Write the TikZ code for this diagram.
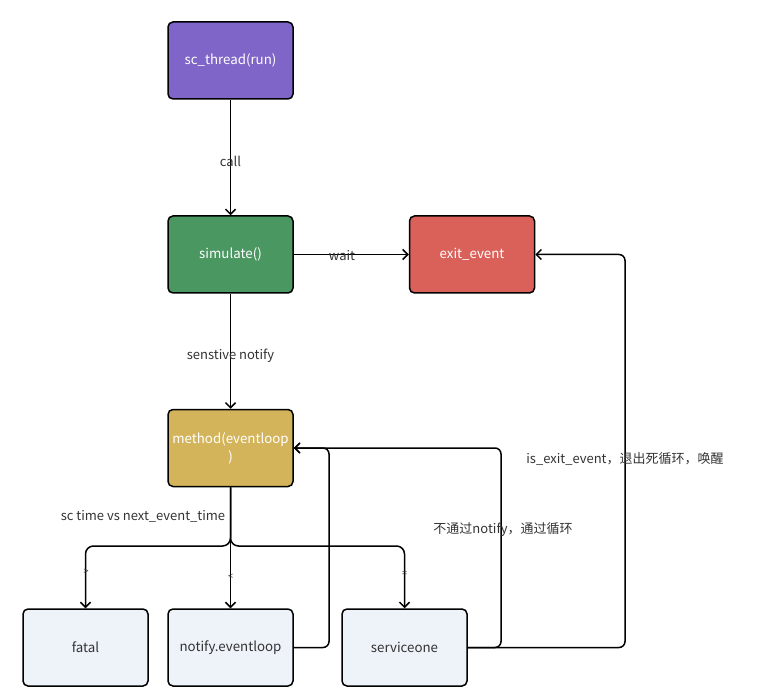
\documentclass[tikz,border=0pt]{standalone}
\usepackage{fontspec}
\setmainfont{Noto Sans CJK SC}
\usetikzlibrary{arrows.meta}
\definecolor{cpurple}{HTML}{8065C9}
\definecolor{cgreen}{HTML}{4A9762}
\definecolor{cred}{HTML}{D9615A}
\definecolor{cgold}{HTML}{D4B45A}
\definecolor{clight}{HTML}{EEF2F9}
\definecolor{ctext}{HTML}{333333}
\tikzset{
  box/.style={draw=black, line width=1.5pt, rounded corners=5pt, minimum width=125pt, minimum height=77pt, inner sep=2pt, align=center, font=\fontsize{13.3}{18}\selectfont},
  dark/.style={box, text=white},
  light/.style={box, fill=clight, text=ctext},
  arr/.style={line width=1.5pt, -{Straight Barb[length=5pt,width=10pt,line width=1.5pt]}},
  lbl/.style={text=ctext, font=\fontsize{13}{15}\selectfont, inner sep=1pt},
  tiny/.style={text=ctext, font=\fontsize{9}{10}\selectfont, inner sep=0pt}
}
\begin{document}
\begin{tikzpicture}[x=1pt,y=-1pt]
\useasboundingbox (0,0) rectangle (760,700);
\node[dark, fill=cpurple] (t) at (230.5,60.5) {sc\_thread(run)};
\node[dark, fill=cgreen] (s) at (230.5,254.5) {simulate()};
\node[dark, fill=cred] (e) at (472,254.5) {exit\_event};
\node[dark, fill=cgold] (m) at (230.5,448) {method(eventloop\\)};
\node[light] (f) at (85.5,647.5) {fatal};
\node[light] (n) at (230.5,647.5) {notify.eventloop};
\node[light] (v) at (404.5,647.5) {serviceone};
\coordinate (br) at (230.5,546);
\draw[arr] (t) -- (s);
\draw[arr] (s) -- (e);
\draw[arr] (s) -- (m);
\draw[arr, rounded corners=8pt] (m.south) -- (br) -| (f.north);
\draw[arr] (m.south) -- (n.north);
\draw[arr, rounded corners=8pt] (m.south) -- (br) -| (v.north);
\draw[arr, rounded corners=6pt] (n.east) -- (329,647.5) |- (m.east);
\draw[arr, rounded corners=6pt] (v.east) -- (501,647.5) |- (m.east);
\draw[arr, rounded corners=6pt] (v.east) -- (625,647.5) |- (e.east);
\node[lbl] (l1) at (230.5,161) {call};
\node[lbl] (l2) at (342,256) {wait};
\node[lbl] (l3) at (230.5,356) {senstive notify};
\node[lbl] (l4) at (143,516) {sc time vs next\_event\_time};
\node[tiny] (l5) at (86,572) {>};
\node[tiny] (l6) at (230.5,577) {<};
\node[tiny] (l7) at (404.5,574) {=};
\node[lbl] (l8) at (625,459) {is\_exit\_event，退出死循环，唤醒};
\node[lbl] (l9) at (503,530) {不通过notify，通过循环};
\end{tikzpicture}
\end{document}
